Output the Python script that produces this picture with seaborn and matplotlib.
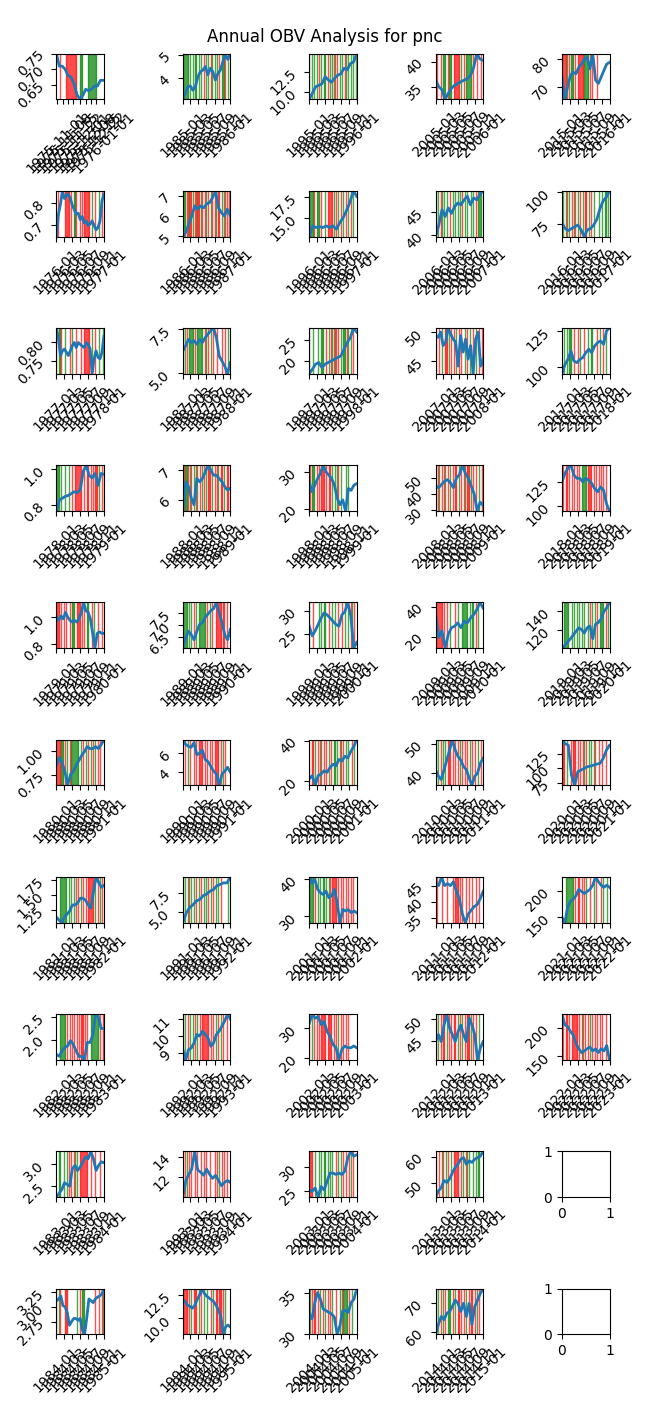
import numpy as np
import pandas as pd
import matplotlib
matplotlib.use('Agg')
import matplotlib.pyplot as plt
import seaborn as sns

ticker = 'pnc'
first_day_1975 = '1975-10-31'

# yearly closes (roughly evenly spaced through each year)
# obv strings: g = OBV up day, r = OBV down day, . = nothing
close_1975 = [0.75, 0.71, 0.71, 0.70, 0.68, 0.675, 0.655, 0.62, 0.605, 0.617, 0.637, 0.632, 0.637, 0.647, 0.647, 0.665, 0.665]
obv_1975 = "...r....rrrrrrrrr...gg....gggggggg......"
close_1976 = [0.65, 0.75, 0.795, 0.855, 0.82, 0.835, 0.84, 0.82, 0.79, 0.77, 0.75, 0.755, 0.725, 0.74, 0.71, 0.72, 0.70, 0.705, 0.72, 0.70, 0.68, 0.69, 0.72, 0.81, 0.84]
obv_1976 = ".r.....rrrr.r.ggr..r.r.rrrrr.g..r..g.r.."
close_1977 = [0.84, 0.81, 0.764, 0.777, 0.782, 0.773, 0.764, 0.777, 0.791, 0.80, 0.786, 0.80, 0.795, 0.79, 0.786, 0.80, 0.795, 0.782, 0.714, 0.755, 0.777, 0.759, 0.755, 0.773, 0.818]
obv_1977 = "r.ggr..g...r.g..r...r..rrrrr.g..r..g..g."
close_1978 = [0.77, 0.83, 0.84, 0.85, 0.855, 0.865, 0.875, 0.87, 0.885, 0.985, 1.02, 0.965, 0.95, 0.975, 0.91, 0.975, 0.97]
obv_1978 = "ggg.g..g..g..r.rrrrrr..r.rr.r.r.rr.g.r.g"
close_1979 = [1.0, 0.976, 1.01, 0.988, 1.036, 1.0, 0.976, 0.964, 0.976, 0.964, 0.988, 1.036, 1.11, 1.048, 1.036, 0.988, 0.88, 0.77, 0.88, 0.892, 0.88, 0.88]
obv_1979 = "rrr.r.r.r..r.gg..rrr.r.r.gg..r.g..r..r.."
close_1980 = [0.85, 0.93, 0.88, 0.79, 0.65, 0.76, 0.79, 0.85, 0.90, 0.95, 0.99, 1.04, 1.02, 1.02, 1.04, 1.02, 1.06, 1.11]
obv_1980 = "rrrrgg.r.g.rggggggg.g.r.g.r.g.r.g.r.r..."
close_1981 = [1.14, 1.09, 1.05, 1.14, 1.19, 1.24, 1.34, 1.34, 1.37, 1.45, 1.45, 1.42, 1.34, 1.29, 1.55, 1.80, 1.71, 1.63, 1.66]
obv_1981 = "...gggggg.g.g.g.r.r.g.r.r.rrrrr.g.r.gr.."
close_1982 = [1.67, 1.63, 1.75, 1.83, 1.86, 1.98, 1.9, 1.75, 1.63, 1.63, 1.55, 1.94, 1.94, 2.1, 2.57, 2.52, 2.25, 2.25]
obv_1982 = "...ggggg.r.r.r.r.r.r.rr.r.r..ggggggg.r.rr"
close_1983 = [2.25, 2.34, 2.42, 2.58, 2.54, 2.5, 2.9, 2.98, 2.86, 2.94, 3.06, 3.17, 3.13, 3.3, 3.13, 2.86, 2.98, 3.06, 3.04]
obv_1983 = "..gg..g..gr.r.rg.g.rrrrrrr..r...r...r..."
close_1984 = [3.1, 3.13, 3.18, 3.02, 3.0, 2.9, 2.7, 2.76, 2.81, 2.81, 2.78, 2.81, 2.62, 2.55, 2.81, 3.13, 3.1, 3.07, 3.13, 3.16, 3.18, 3.21, 3.3]
obv_1984 = "r.gr...rrr.......g.r.ggg........r..r.gr."
close_1985 = [3.12, 3.38, 3.65, 3.68, 3.5, 3.65, 4.07, 4.28, 4.35, 4.5, 4.15, 4.43, 4.28, 3.93, 4.2, 4.35, 4.7, 5.0, 4.8, 5.05]
obv_1985 = "ggggg.g.g.gg.g.g.r.g.g.rg.g.g.r.gggr.g.."
close_1986 = [4.98, 5.2, 5.6, 6.0, 6.5, 6.34, 6.5, 6.4, 6.6, 6.66, 6.9, 7.25, 6.4, 6.16, 6.0, 6.34, 6.0]
obv_1986 = "gggrgrrrg.rgrr.gr.rg.r.gr.rg.rr.g.rgr.r."
close_1987 = [6.25, 6.54, 6.9, 6.73, 6.83, 6.63, 6.9, 6.73, 7.0, 7.2, 7.4, 7.55, 7.0, 5.96, 5.67, 5.38, 4.95, 5.58]
obv_1987 = "r.gr.gggg.r.ggggg.rg.r.g.r..r...r..r.g.."
close_1988 = [5.62, 6.61, 6.44, 6.06, 5.83, 6.72, 6.61, 6.72, 6.94, 7.17, 7.0, 6.83, 6.83, 6.72, 6.61, 6.44, 6.33, 6.39]
obv_1988 = "grggr.gr.g.rg.r.gr.g.rr.g.r.rg.rr.g.rr.."
close_1989 = [6.05, 6.47, 6.76, 6.61, 6.4, 6.76, 7.04, 7.11, 7.33, 7.47, 7.61, 7.69, 7.95, 7.54, 7.11, 6.61, 6.4, 6.83]
obv_1989 = "gggg.g.g.r.g.gggggg.r.g.r..rrrrr.rr.r..."
close_1990 = [7.4, 6.9, 6.7, 6.6, 7.1, 5.8, 6.0, 6.3, 5.3, 5.1, 4.6, 4.1, 3.8, 2.6, 3.8, 4.1, 4.5, 4.0]
obv_1990 = "..r.g.r..r.r.rrrr.r.r.r.r.rrrr.r.g.r...."
close_1991 = [3.6, 4.9, 5.6, 6.0, 6.5, 6.7, 7.2, 7.4, 7.8, 8.0, 8.5, 8.7, 8.9, 8.9, 9.7]
obv_1991 = "g.g.gr.g.g.r.g.r.g.g.r.g.r.g.g.r.....g.."
close_1992 = [9.2, 8.6, 9.2, 9.3, 9.6, 10.1, 10.0, 10.3, 10.1, 9.9, 9.4, 9.6, 10.1, 10.3, 10.6, 10.9, 11.3, 11.0]
obv_1992 = "r.g.r.g.g.r.g.r.rrrrrr.r.r.g.r.g.r..r..."
close_1993 = [10.1, 11.7, 12.3, 12.8, 14.5, 12.7, 12.5, 12.2, 12.8, 12.3, 11.9, 12.2, 11.7, 11.2, 11.5, 11.7, 11.5]
obv_1993 = "g.rg.r.r..r.r..r.r.r..r...r.r.g.r.r.r..."
close_1994 = [12.0, 11.8, 11.4, 11.3, 11.1, 11.4, 12.0, 12.5, 13.2, 12.7, 12.4, 12.2, 12.0, 11.8, 11.4, 10.9, 10.2, 8.3, 9.1, 9.3, 9.1]
obv_1994 = "rrrr.r.g.rrr.g.r.g..g..r.g.rr.rr.r.g...."
close_1995 = [9.0, 9.8, 10.6, 10.8, 11.0, 11.9, 11.5, 11.2, 11.7, 12.1, 12.3, 13.0, 12.8, 13.6, 13.8, 14.9]
obv_1995 = "g.g.g.g.r.g.gg.r.g.grg.r.g.g.rg.g.g.g.g."
close_1996 = [12.7, 14.0, 13.8, 13.9, 13.8, 14.0, 13.8, 14.0, 13.6, 14.4, 15.0, 15.9, 16.9, 18.3, 17.6]
obv_1996 = "ggggr.ggg.r..g.rrrrrg.r.g.r.g.r.g.r.g..."
close_1997 = [16.9, 18.0, 19.2, 19.6, 18.4, 19.2, 19.6, 20.0, 20.4, 20.8, 21.2, 22.8, 24.4, 25.6, 27.9, 26.9]
obv_1997 = "g..g...g..gg..r.g.rgrgr.r.g.gg.rg.g.r..."
close_1998 = [27.3, 24.6, 26.4, 28.2, 29.6, 31.8, 30.0, 29.1, 28.2, 26.4, 22.9, 21.1, 22.4, 19.4, 25.5, 25.0, 26.4, 26.8]
obv_1998 = "grggg.r.r.rrr.r.rr.g.g.gr.g...g.g......."
close_1999 = [26.6, 24.5, 25.6, 27.0, 28.4, 29.5, 29.1, 28.4, 27.7, 27.0, 26.6, 29.1, 29.8, 31.8, 28.8, 21.8, 23.1]
obv_1999 = "g..r....g.g.gg..r..g.g..r..r.g..g.rg.r.."
close_2000 = [21.1, 22.7, 17.8, 22.7, 23.5, 25.1, 24.3, 26.7, 28.3, 27.5, 30.7, 29.9, 32.3, 31.5, 34.7, 37.1, 40.5]
obv_2000 = "r.rr.g.r.rg.r.r.g.r.gg.g.rg.r.g.g..r.g.."
close_2001 = [40.7, 39.0, 40.0, 37.3, 36.4, 35.9, 36.8, 35.0, 35.5, 37.3, 33.6, 28.2, 31.8, 31.4, 31.8, 30.9, 31.4, 30.9]
obv_2001 = "gggg.r.g.g.gg.g.gr.rrrr.r.r.r.r.r.r.r..."
close_2002 = [31.6, 34.6, 33.2, 33.8, 31.1, 32.2, 28.9, 27.3, 24.6, 23.5, 19.5, 23.0, 24.1, 23.5, 23.5, 24.1, 23.5]
obv_2002 = "r.g.r.r.r.rrrr.rrrr.r.r.g.r.r.r.r......."
close_2003 = [25.3, 25.0, 25.7, 23.8, 26.0, 25.3, 27.1, 28.8, 28.8, 28.5, 28.8, 28.5, 29.2, 32.0, 33.3, 32.3, 32.6]
obv_2003 = "rrr..g..g.g.gg.g.g.g..r.g.g.r.r..rg.r..."
close_2004 = [32.4, 31.8, 33.8, 35.0, 34.2, 33.0, 32.8, 32.6, 32.4, 32.0, 29.9, 31.0, 32.8, 32.8, 32.6, 33.8, 34.2, 35.5]
obv_2004 = "rgr.rr.r.g.r.g.r.r.g..r..g.rgggg.r.g...."
close_2005 = [36.3, 35.0, 34.4, 32.5, 33.7, 34.7, 35.3, 35.6, 36.0, 36.3, 36.6, 37.2, 38.8, 41.6, 40.5, 40.2]
obv_2005 = ".r..r.ggg.rggg.rrrrr.g.r.ggggg.r..r..r.."
close_2006 = [39.7, 42.2, 45.6, 44.1, 46.0, 44.8, 46.3, 47.1, 46.7, 47.8, 48.6, 46.7, 48.2, 47.8, 49.0, 49.8]
obv_2006 = "g.g.rg.g.g..r.g.g.g.g.r.g.g..g.g.r.ggg.."
close_2007 = [49.4, 49.1, 50.0, 47.7, 48.3, 50.7, 49.7, 48.8, 48.3, 44.2, 49.4, 46.6, 48.8, 45.4, 47.7, 42.9, 48.8, 50.0, 44.2, 45.4]
obv_2007 = "r..r.g..rr.g.r.r.g.r.r..g.r.g..r.g..r.r."
close_2008 = [45, 44, 46, 48, 49, 47, 44, 50, 52, 58, 53, 50, 45, 40, 29.5, 35, 33]
obv_2008 = "r.rg.r.gr.r.g.r.rr.g.r.rg.rr.g.r.r..g.r."
close_2009 = [34.8, 19.6, 23.9, 12.5, 21.7, 26.0, 27.0, 29.2, 26.0, 30.3, 29.2, 32.4, 34.6, 37.9, 42.7, 39.0]
obv_2009 = "rrrrrr.r.r..g...r.g...ggggg.g.gg.r.g...."
close_2010 = [41.1, 38.9, 37.8, 41.1, 44.4, 47.8, 51.3, 47.8, 45.6, 44.4, 42.2, 41.1, 38.3, 35.8, 38.9, 40.0, 43.3, 45.0]
obv_2010 = "g.g.r.g.g.rrr.r.r.r.g.r.r.r.g.r.r..g.r.."
close_2011 = [45.6, 45.0, 47.7, 45.0, 45.6, 45.0, 46.2, 43.2, 40.9, 36.2, 33.5, 36.2, 37.4, 38.5, 39.1, 40.9, 43.2]
obv_2011 = ".r...r...r....r.rrr.r.r..r.r..r..r..r..."
close_2012 = [44.8, 46.4, 44.8, 48.6, 51.1, 47.9, 46.4, 44.8, 47.1, 48.6, 46.4, 44.8, 50.2, 48.6, 46.4, 40.6, 43.3, 44.8]
obv_2012 = "r.g.r.rr.g.r.r.rr.g.r.g.r.rr.g.r.r..g..."
close_2013 = [44.6, 47.0, 48.2, 50.9, 50.2, 51.5, 53.9, 55.9, 57.1, 59.0, 59.6, 57.1, 58.4, 57.8, 59.0, 59.6, 60.2, 62.0]
obv_2013 = "r..r.gr.g.r.g..rrrr.r.g.rg.g..g.g.gg..."
close_2014 = [59.2, 62.6, 65.3, 64.2, 66.4, 67.0, 68.7, 70.9, 69.8, 67.0, 69.8, 65.3, 69.8, 62.6, 68.7, 70.9, 73.1, 74.8]
obv_2014 = "g.g.r.g.r.ggg.r.g.rr.r.r.g.r.rr.r.g.r..."
close_2015 = [73.5, 65.5, 70.0, 74.1, 75.3, 74.7, 77.0, 78.2, 80.0, 80.6, 76.5, 82.0, 72.4, 71.2, 73.5, 75.9, 78.2, 78.8]
obv_2015 = "rrrrg.rggg.r.rrrrrgggg.r.r...r.........."
close_2016 = [75.6, 71.2, 69.7, 71.2, 72.7, 74.0, 70.3, 65.0, 70.3, 71.2, 74.0, 78.5, 87.0, 93.0, 96.0, 101.0]
obv_2016 = ".g.gr.g.r.gr.g.r.g.rr.g.r.g...g..g.gg.g."
close_2017 = [95.5, 101.9, 105.4, 111.2, 104.3, 103.1, 105.4, 106.6, 110.0, 112.4, 110.0, 114.6, 117.0, 118.1, 115.8, 125.0, 127.0]
obv_2017 = "..g.g.gg..r..r.g..r..g..gg...r.g..r.g..."
close_2018 = [125.0, 133.7, 138.9, 142.0, 132.0, 128.5, 128.5, 125.0, 128.5, 126.7, 123.3, 118.0, 114.6, 119.8, 116.3, 102.4, 95.0]
obv_2018 = ".r.rr.r.r.r.r.r.gggggrrrr.r.r.r.r.r.r..."
close_2019 = [101.0, 104.0, 107.5, 111.0, 115.0, 118.8, 122.6, 120.7, 117.0, 122.6, 124.5, 111.0, 126.4, 128.3, 132.0, 140.0, 143.7, 149.5]
obv_2019 = "..gggg..g.g.g.g.g.g..g.r.g.g.r.gggg.r.g."
close_2020 = [149.0, 142.0, 139.3, 88.0, 70.0, 93.7, 96.6, 99.4, 102.3, 103.4, 105.1, 106.8, 108.0, 116.5, 130.7, 139.3]
obv_2020 = "rrr.g..r.rrr.r.r.rg.r.g.g.gr..r..r..r..."
close_2021 = [150, 140, 169, 181, 185, 192, 204, 200, 196, 200, 204, 212, 228, 219, 212, 208, 212, 208]
obv_2021 = "...ggggggg.r.rr.r.r.g..r..g.r...r.g..g.."
close_2022 = [225, 206, 203, 194, 188, 172, 163, 156, 159, 163, 166, 159, 163, 156, 163, 159, 169, 143]
obv_2022 = ".r.rr.r.rrrrr.r.rg.r.r.g.r.r.r.r.r..r..."

years = list(range(1975, 2023))
closes = [globals()[f'close_{y}'] for y in years]
signals = [globals()[f'obv_{y}'] for y in years]

fig, axes = plt.subplots(10, 5, figsize=(6.5, 14.1))

for i, y in enumerate(years):
    ax = axes[i % 10, i // 10]
    start = first_day_1975 if y == 1975 else f'{y}-01-02'
    end = f'{y}-12-31'
    vals = closes[i]
    sig = signals[i]
    dates = pd.date_range(start, end, periods=len(vals))
    slots = pd.date_range(start, end, periods=len(sig))
    lo, hi = min(vals), max(vals)

    up = np.array([c == 'g' for c in sig])
    down = np.array([c == 'r' for c in sig])
    ax.fill_between(slots, lo, hi, where=up, color='green', alpha=0.7)
    ax.fill_between(slots, lo, hi, where=down, color='red', alpha=0.7)
    sns.lineplot(x=dates, y=vals, ax=ax, linewidth=2)

    left = first_day_1975 if y == 1975 else f'{y}-01-01'
    ax.set_xlim(pd.Timestamp(left), pd.Timestamp(f'{y + 1}-01-01'))
    ax.set_ylim(lo, hi)
    ax.set_xlabel('')
    ax.set_ylabel('')
    ax.tick_params(axis='x', labelrotation=45)
    ax.tick_params(axis='y', labelrotation=45)

fig.suptitle(f'Annual OBV Analysis for {ticker}')
fig.tight_layout()
fig.savefig('out.png', dpi=100)
